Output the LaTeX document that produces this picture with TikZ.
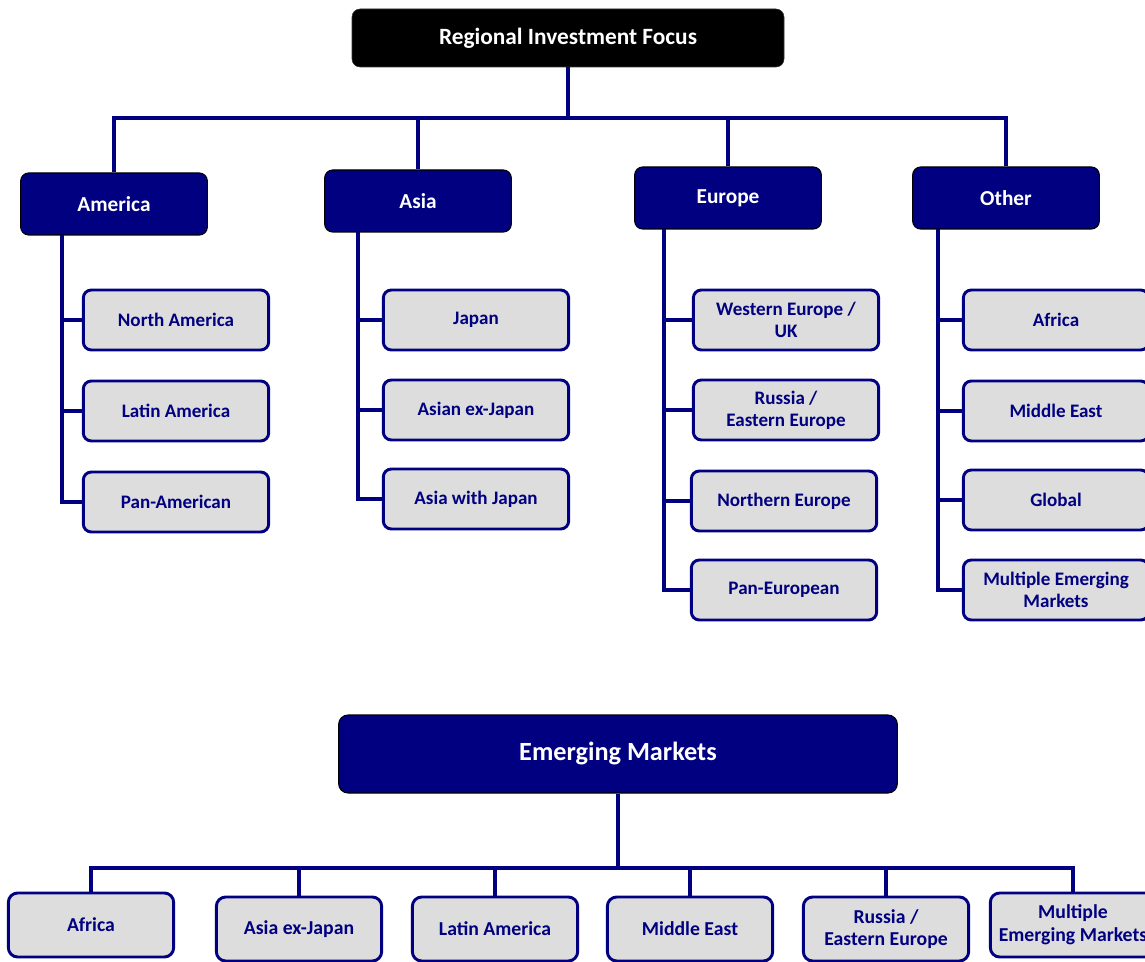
\documentclass[tikz,border=0pt]{standalone}
\usepackage{fontspec}
\setmainfont{Carlito}
\definecolor{navy}{RGB}{0,0,128}
\definecolor{boxgrey}{RGB}{221,221,221}
\begin{document}
\begin{tikzpicture}[x=0.75pt,y=-0.75pt,
  conn/.style={draw=navy,line width=2.4pt},
  rootbox/.style={draw=black!80,fill=black,rounded corners=6pt,text=white,font=\bfseries\fontsize{17.5}{20}\selectfont,minimum width=324pt,minimum height=43.5pt,inner sep=0pt},
  catbox/.style={draw=black,line width=0.8pt,fill=navy,rounded corners=6pt,text=white,font=\bfseries\fontsize{16}{19}\selectfont,minimum width=140pt,minimum height=46.5pt,inner sep=0pt},
  leafbox/.style={draw=navy,line width=2.2pt,fill=boxgrey,rounded corners=6pt,text=navy,font=\bfseries\fontsize{14.3}{16.5}\selectfont,minimum width=139pt,minimum height=45pt,inner sep=0pt,align=center},
  embox/.style={draw=black,line width=0.8pt,fill=navy,rounded corners=7pt,text=white,font=\bfseries\fontsize{19.7}{23}\selectfont,minimum width=419pt,minimum height=58.5pt,inner sep=0pt},
  botbox/.style={draw=navy,line width=2.2pt,fill=boxgrey,rounded corners=7pt,text=navy,font=\bfseries\fontsize{14.8}{17}\selectfont,minimum width=124pt,minimum height=48pt,inner sep=0pt,align=center}]
\useasboundingbox (0,0) rectangle (1145,962);
\fill[white] (0,0) rectangle (1145,962);

% top root
\node[rootbox] (root) at (568,38) {Regional Investment Focus};
\node[catbox] (am) at (114,204) {America};
\node[catbox] (as) at (418,201) {Asia};
\node[catbox] (eu) at (728,198) {Europe};
\node[catbox] (ot) at (1006,198) {Other};

\coordinate (bus) at (568,118);
\draw[conn] (root.south) -- (bus);
\draw[conn] (bus) -| (am.north);
\draw[conn] (bus) -| (as.north);
\draw[conn] (bus) -| (eu.north);
\draw[conn] (bus) -| (ot.north);

% America
\node[leafbox] (na) at (176,320) {North America};
\node[leafbox] (lam) at (176,411) {Latin America};
\node[leafbox] (pam) at (176,502) {Pan-American};
\coordinate (amt) at (62,235);
\draw[conn] (amt) |- (pam.west);
\draw[conn] (na.west) -- (na.west -| amt);
\draw[conn] (lam.west) -- (lam.west -| amt);

% Asia
\node[leafbox] (jp) at (476,320) {Japan};
\node[leafbox] (axj) at (476,410) {Asian ex-Japan};
\node[leafbox] (awj) at (476,499) {Asia with Japan};
\coordinate (ast) at (358,232);
\draw[conn] (ast) |- (awj.west);
\draw[conn] (jp.west) -- (jp.west -| ast);
\draw[conn] (axj.west) -- (axj.west -| ast);

% Europe
\node[leafbox] (weu) at (786,320) {Western Europe /\\UK};
\node[leafbox] (ree) at (786,410) {Russia /\\Eastern Europe};
\node[leafbox] (neu) at (784,501) {Northern Europe};
\node[leafbox] (peu) at (784,590) {Pan-European};
\coordinate (eut) at (664,229);
\draw[conn] (eut) |- (peu.west);
\draw[conn] (weu.west) -- (weu.west -| eut);
\draw[conn] (ree.west) -- (ree.west -| eut);
\draw[conn] (neu.west) -- (neu.west -| eut);

% Other
\node[leafbox] (af) at (1056,320) {Africa};
\node[leafbox] (me) at (1056,411) {Middle East};
\node[leafbox] (gl) at (1056,500) {Global};
\node[leafbox] (mem) at (1056,590) {Multiple Emerging\\Markets};
\coordinate (ott) at (938,229);
\draw[conn] (ott) |- (mem.west);
\draw[conn] (af.west) -- (af.west -| ott);
\draw[conn] (me.west) -- (me.west -| ott);
\draw[conn] (gl.west) -- (gl.west -| ott);

% Emerging markets
\node[embox] (em) at (618,754) {Emerging Markets};
\coordinate (bbus) at (618,868);
\node[botbox] (baf) at (91,925) {Africa};
\node[botbox] (baxj) at (299,929) {Asia ex-Japan};
\node[botbox] (bla) at (495,929) {Latin America};
\node[botbox] (bme) at (690,929) {Middle East};
\node[botbox] (bre) at (886,929) {Russia /\\Eastern Europe};
\node[botbox] (bmem) at (1073,925) {Multiple\\Emerging Markets};
\draw[conn] (em.south) -- (bbus);
\draw[conn] (bbus) -| (baf.north);
\draw[conn] (bbus) -| (baxj.north);
\draw[conn] (bbus) -| (bla.north);
\draw[conn] (bbus) -| (bme.north);
\draw[conn] (bbus) -| (bre.north);
\draw[conn] (bbus) -| (bmem.north);
\end{tikzpicture}
\end{document}
